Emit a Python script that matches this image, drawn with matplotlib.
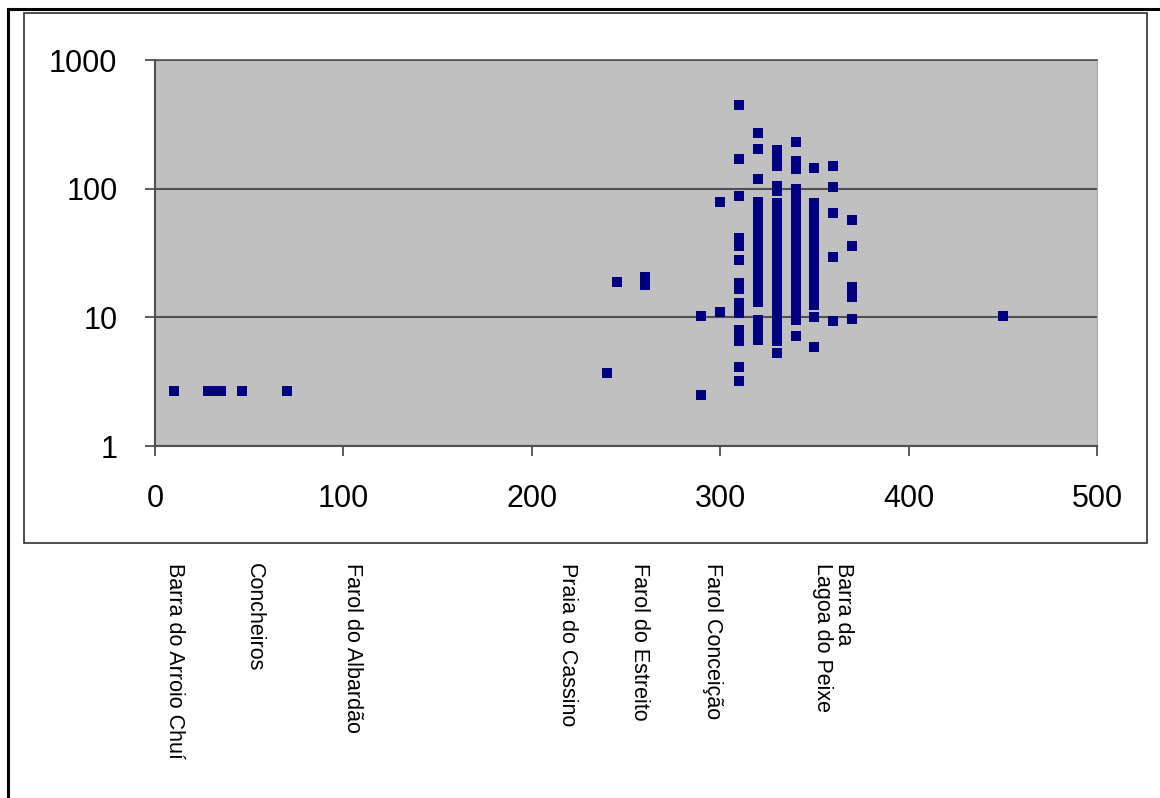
import matplotlib
matplotlib.use('Agg')
import matplotlib.pyplot as plt
from matplotlib.patches import Rectangle
from matplotlib.lines import Line2D
import matplotlib.transforms as mtransforms

plt.rcParams['font.family'] = ['Liberation Sans', 'DejaVu Sans']

dist_km = (
    [10, 28, 31, 34, 35, 46, 70]
    + [240, 245, 260, 260, 290, 290, 300, 300]
    + [310] * 16
    + [320] * 21
    + [330] * 25
    + [340] * 23
    + [350] * 17
    + [360] * 5
    + [370] * 5
    + [450]
)
values = (
    [2.7, 2.7, 2.7, 2.7, 2.7, 2.7, 2.7]
    + [3.7, 18.8, 20.5, 17.8, 10.2, 2.5, 79, 11]
    # 310
    + [447, 170, 88, 41, 36, 28, 18.5, 17.5, 16.5, 12.9, 10.8,
       8.0, 7.2, 6.6, 4.1, 3.2]
    # 320
    + [270, 203, 119,
       79, 69, 60, 52, 45, 39, 34, 29.5, 25.5, 22, 19, 16.5, 14.5, 13.2,
       9.5, 8.4, 7.4, 6.7]
    # 330
    + [199, 172, 150, 104, 96,
       78, 68, 59, 51, 44, 38, 33, 29, 25, 22, 19, 16.5, 14.3, 12.4, 10.8,
       9.4, 8.2, 7.2, 6.5, 5.3]
    # 340
    + [230, 164, 150, 142,
       99, 86, 75, 65, 56, 49, 42, 37, 32, 28, 24, 21, 18, 15.7, 13.6, 11.8,
       10.3, 9.5, 7.2]
    # 350
    + [144, 77, 67, 58, 50, 43, 37, 32, 28, 24, 21, 18, 15.5, 13.5, 12.5,
       10.1, 5.9]
    # 360
    + [150, 103, 65, 29.5, 9.3]
    # 370
    + [57, 36, 17.2, 14.4, 9.7]
    # 450
    + [10.2]
)

x_ticks = [0, 100, 200, 300, 400, 500]
y_ticks = [1, 10, 100, 1000]
y_tick_labels = ['1', '10', '100', '1000']

place_names = ['Barra do Arroio Chuí', 'Concheiros', 'Farol do Albardão',
               'Praia do Cassino', 'Farol do Estreito', 'Farol Conceição',
               'Barra da\nLagoa do Peixe']
place_km = [10.6, 53, 104.6, 218.7, 257, 296, 360]

fig = plt.figure(figsize=(11.6, 7.98), dpi=100)
ax = fig.add_axes([0.1336, 0.4411, 0.8121, 0.4837])
ax.set_facecolor('#c0c0c0')

ax.plot(dist_km, values, linestyle='none', marker='s', markersize=6.8,
        color='#000080', markeredgewidth=0)

ax.set_yscale('log')
ax.set_xlim(0, 500)
ax.set_ylim(1, 1000)
ax.set_xticks(x_ticks)
ax.set_xticklabels([str(t) for t in x_ticks])
ax.set_yticks(y_ticks)
ax.set_yticklabels(y_tick_labels)
ax.yaxis.set_minor_locator(matplotlib.ticker.NullLocator())

ax.grid(axis='y', color='#505050', linewidth=1.5)
ax.set_axisbelow(True)
ax.tick_params(axis='both', length=7, width=1.2, color='#404040',
               pad=20, labelsize=22, labelcolor='black')

for side in ['left', 'bottom']:
    ax.spines[side].set_color('#505050')
    ax.spines[side].set_linewidth(1.5)
ax.spines['top'].set_color('#505050')
ax.spines['top'].set_linewidth(1.2)
ax.spines['right'].set_color('#a8a8a8')
ax.spines['right'].set_linewidth(0.8)

# location names under the chart
trans = mtransforms.blended_transform_factory(ax.transData, fig.transFigure)
for name, km in zip(place_names, place_km):
    fig.text(km, 0.2945, name, transform=trans, rotation=270,
             ha='center', va='top', multialignment='left',
             fontsize=15.5, linespacing=1.0)

# chart box and outer frame
fig.add_artist(Rectangle((24 / 1160, 1 - 543 / 798), (1147 - 24) / 1160,
                         (543 - 13) / 798, transform=fig.transFigure,
                         fill=False, edgecolor='#303030', linewidth=1.2))
fig.add_artist(Line2D([8 / 1160, 8 / 1160], [0, 1 - 9 / 798],
                      transform=fig.transFigure, color='black', linewidth=2.2))
fig.add_artist(Line2D([8 / 1160, 1], [1 - 9 / 798, 1 - 9 / 798],
                      transform=fig.transFigure, color='black', linewidth=2.2))

fig.savefig('out.png', dpi=100)
